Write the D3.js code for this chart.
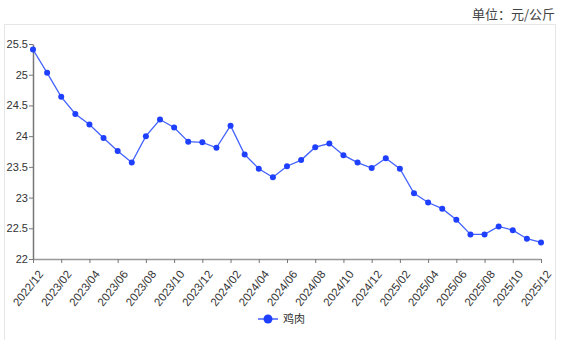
<!DOCTYPE html>
<html>
<head>
<meta charset="utf-8">
<script src="https://cdn.jsdelivr.net/npm/d3@7"></script>
<style>
  body { margin: 0; background: #fff; }
  svg { display: block; font-family: "Liberation Sans", "Noto Sans CJK SC", sans-serif; }
</style>
</head>
<body>
<div id="chart"></div>
<script>
// data
const months = [
  "2022/12", "2023/01", "2023/02", "2023/03", "2023/04", "2023/05", "2023/06", "2023/07",
  "2023/08", "2023/09", "2023/10", "2023/11", "2023/12", "2024/01", "2024/02", "2024/03",
  "2024/04", "2024/05", "2024/06", "2024/07", "2024/08", "2024/09", "2024/10", "2024/11",
  "2024/12", "2025/01", "2025/02", "2025/03", "2025/04", "2025/05", "2025/06", "2025/07",
  "2025/08", "2025/09", "2025/10", "2025/11", "2025/12"
];
const chicken = [
  25.41, 25.03, 24.64, 24.36, 24.19, 23.97, 23.76, 23.57,
  24.00, 24.27, 24.14, 23.91, 23.90, 23.81, 24.17, 23.70,
  23.47, 23.33, 23.51, 23.61, 23.82, 23.88, 23.69, 23.57,
  23.48, 23.64, 23.47, 23.07, 22.92, 22.82, 22.64, 22.40,
  22.40, 22.53, 22.47, 22.33, 22.27
];
const yTicks = [22, 22.5, 23, 23.5, 24, 24.5, 25, 25.5];
const seriesName = "鸡肉";
const unitText = "单位：元/公斤";

const width = 561, height = 340;
const margin = { left: 33, right: 20, top: 44, bottom: 81 };

const svg = d3.select("#chart")
  .append("svg")
  .attr("width", width)
  .attr("height", height);

// outer light frame
svg.append("rect")
  .attr("x", 4.5).attr("y", 24.5)
  .attr("width", 551).attr("height", 320)
  .attr("fill", "none")
  .attr("stroke", "#e6e6e6");

// unit label
svg.append("text")
  .attr("x", 555).attr("y", 19)
  .attr("text-anchor", "end")
  .attr("font-size", 13)
  .attr("fill", "#444")
  .style("font-family", "'Noto Sans CJK SC', sans-serif")
  .text(unitText);

const x = d3.scalePoint()
  .domain(months)
  .range([margin.left, width - margin.right]);

const y = d3.scaleLinear()
  .domain([22, 25.5])
  .range([height - margin.bottom, margin.top]);

// y axis
const yAxis = svg.append("g")
  .attr("transform", `translate(${margin.left},0)`)
  .call(d3.axisLeft(y).tickValues(yTicks).tickFormat(d => d).tickSize(4).tickSizeOuter(0));
yAxis.select(".domain").attr("stroke", "#777").attr("stroke-width", 1.5);
yAxis.selectAll(".tick line").attr("stroke", "#777");
yAxis.selectAll("text").attr("font-size", 11).attr("fill", "#333").attr("x", -5);

// x axis, label every 2nd month
const xAxis = svg.append("g")
  .attr("transform", `translate(0,${height - margin.bottom})`)
  .call(d3.axisBottom(x)
    .tickValues(months.filter((d, i) => i % 2 === 0))
    .tickSize(4).tickSizeOuter(0));
xAxis.select(".domain").attr("stroke", "#999").attr("stroke-width", 1.5);
xAxis.selectAll(".tick line").attr("stroke", "#777");
xAxis.selectAll("text")
  .attr("font-size", 11.5)
  .attr("fill", "#333")
  .attr("text-anchor", "end")
  .attr("dx", 0).attr("dy", 0)
  .attr("transform", "translate(5,11) rotate(-52)");

// line
const line = d3.line()
  .x((d, i) => x(months[i]))
  .y(d => y(d));

svg.append("path")
  .datum(chicken)
  .attr("d", line)
  .attr("fill", "none")
  .attr("stroke", "#4463ff")
  .attr("stroke-width", 1.3);

svg.selectAll(".dot")
  .data(chicken)
  .enter()
  .append("circle")
  .attr("class", "dot")
  .attr("cx", (d, i) => x(months[i]))
  .attr("cy", d => y(d))
  .attr("r", 3)
  .attr("fill", "#1f3fff");

// legend
const lg = svg.append("g").attr("transform", "translate(258,319)");
lg.append("line")
  .attr("x1", 0).attr("x2", 20)
  .attr("stroke", "#4463ff").attr("stroke-width", 1.5);
lg.append("circle")
  .attr("cx", 10).attr("r", 4.5)
  .attr("fill", "#1f3fff");
lg.append("text")
  .attr("x", 25).attr("y", 4)
  .attr("font-size", 11)
  .attr("fill", "#333")
  .style("font-family", "'Noto Sans CJK SC', sans-serif")
  .text(seriesName);
</script>
</body>
</html>
